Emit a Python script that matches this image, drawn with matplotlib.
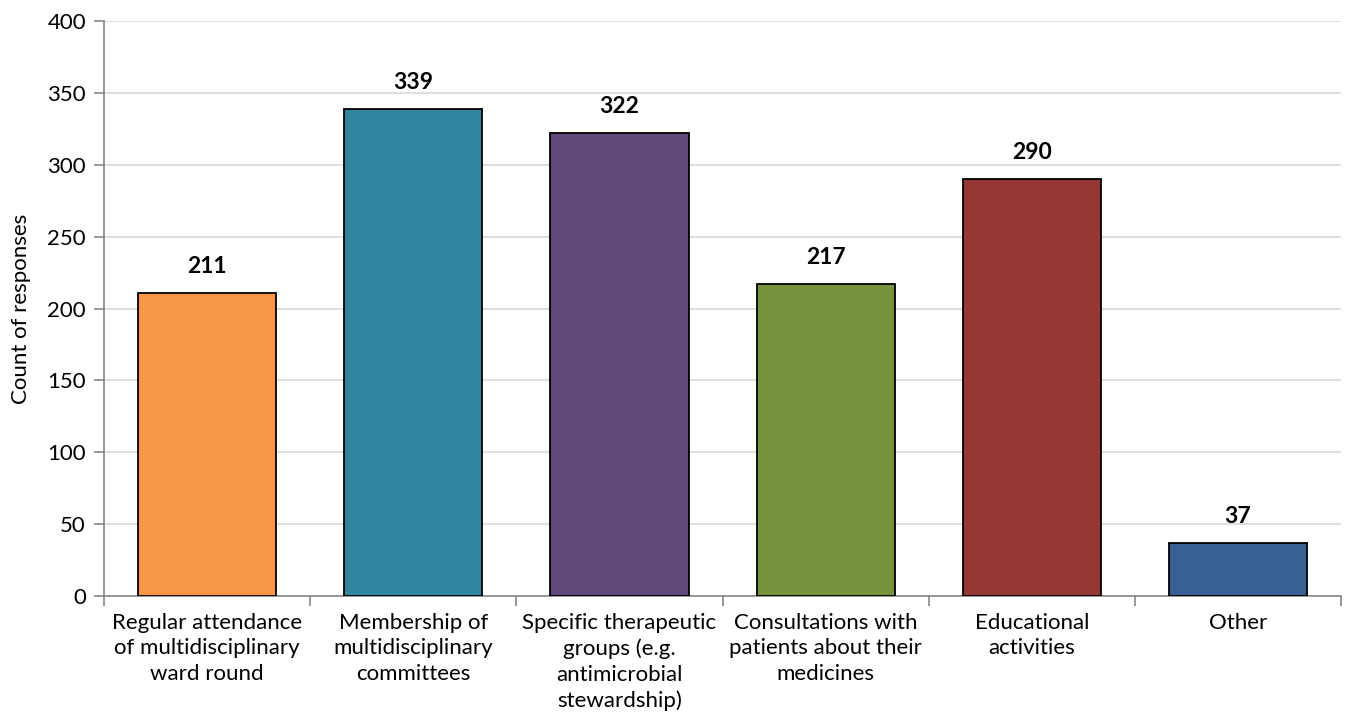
import matplotlib.pyplot as plt
import numpy as np

categories = [
    "Regular attendance\nof multidisciplinary\nward round",
    "Membership of\nmultidisciplinary\ncommittees",
    "Specific therapeutic\ngroups (e.g.\nantimicrobial\nstewardship)",
    "Consultations with\npatients about their\nmedicines",
    "Educational\nactivities",
    "Other",
]
counts = [211, 339, 322, 217, 290, 37]
colors = ["#F79646", "#31859C", "#604A7B", "#77933C", "#953735", "#366092"]

plt.rcParams['font.family'] = ['Lato', 'DejaVu Sans']

fig = plt.figure(figsize=(13.46, 7.27), dpi=100)
ax = fig.add_axes([0.0773, 0.1802, 0.919, 0.7909])

x = np.arange(len(categories))
bars = ax.bar(x, counts, width=0.67, color=colors, edgecolor="black", linewidth=1.3, zorder=3)

for xi, v in zip(x, counts):
    ax.text(xi, v + 11, str(v), ha="center", va="bottom", fontsize=16.5, fontweight="bold")

ax.set_xlim(-0.5, len(categories) - 0.5)
ax.set_ylim(0, 400)
ax.set_yticks(range(0, 401, 50))
ax.yaxis.grid(True, color="#D9D9D9", linewidth=1.2, zorder=0)

ax.set_xticks(x)
ax.set_xticklabels(categories, fontsize=16, linespacing=1.35)
ax.set_xticks(np.arange(-0.5, len(categories), 1), minor=True)
ax.tick_params(axis="x", which="major", length=0, pad=12)
ax.tick_params(axis="x", which="minor", length=7, color="#868686", width=1.2)
ax.tick_params(axis="y", length=7, color="#868686", width=1.2, labelsize=16, pad=6)

for s in ["top", "right"]:
    ax.spines[s].set_visible(False)
for s in ["left", "bottom"]:
    ax.spines[s].set_color("#868686")
    ax.spines[s].set_linewidth(1.2)

ax.set_ylabel("Count of responses", fontsize=16, labelpad=12)

fig.savefig("out.png", dpi=100)
